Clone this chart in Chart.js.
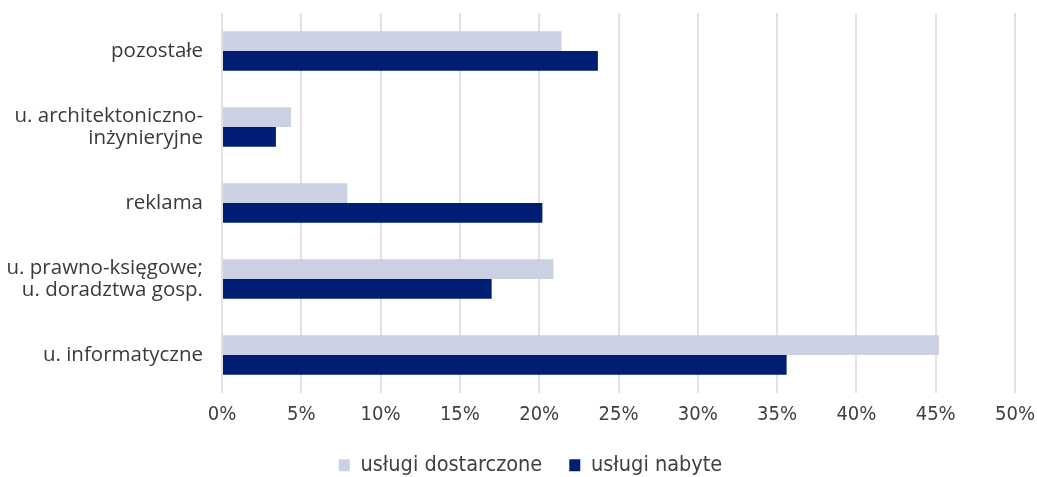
<!DOCTYPE html>
<html>
<head>
<meta charset="utf-8">
<script src="https://cdn.jsdelivr.net/npm/chart.js@4"></script>
<style>
  html, body { margin: 0; padding: 0; background: #fff; }
  #wrap { width: 1037px; height: 477px; position: relative; }
</style>
</head>
<body>
<div id="wrap"><canvas id="servChart"></canvas></div>
<script>
const categories = [
    'pozostałe',
    ['u. architektoniczno-', 'inżynieryjne'],
    'reklama',
    ['u. prawno-księgowe;', 'u. doradztwa gosp.'],
    'u. informatyczne'
];
const dostarczone = [21.4, 4.35, 7.9, 20.9, 45.2];
const nabyte = [23.7, 3.4, 20.2, 17.0, 35.6];
const seriesNames = ['usługi dostarczone', 'usługi nabyte'];
const xTicks = [0, 5, 10, 15, 20, 25, 30, 35, 40, 45, 50];

const labelFont = "'Open Sans', 'Noto Sans', sans-serif";
const narrowFont = "'Liberation Sans Narrow', 'DejaVu Sans Condensed', sans-serif";

// legend in the original sits a bit right of centre
const nudgeLegend = {
    id: 'nudgeLegend',
    afterLayout(chart) {
        if (!chart.legend) return;
        chart.legend.left += 23;
        chart.legend.right += 23;
    }
};

const ctx = document.getElementById('servChart').getContext('2d');
new Chart(ctx, {
    type: 'bar',
    data: {
        labels: categories,
        datasets: [
            { label: seriesNames[0], data: dostarczone, backgroundColor: '#cbd0e2', borderWidth: 0 },
            { label: seriesNames[1], data: nabyte, backgroundColor: '#001e73', borderWidth: 0 }
        ]
    },
    plugins: [nudgeLegend],
    options: {
        indexAxis: 'y',
        responsive: true,
        maintainAspectRatio: false,
        animation: false,
        categoryPercentage: 0.52,
        barPercentage: 1.0,
        layout: { padding: { top: 13, right: 22, left: 0, bottom: -9 } },
        plugins: {
            tooltip: { enabled: false },
            legend: {
                position: 'bottom',
                labels: {
                    color: '#404040',
                    font: { family: narrowFont, size: 21.5 },
                    boxWidth: 11, boxHeight: 12,
                    padding: 27
                }
            }
        },
        scales: {
            x: {
                min: 0, max: 50,
                afterBuildTicks: s => { s.ticks = xTicks.map(v => ({ value: v })); },
                afterFit: s => { s.height = 34.5; s.paddingRight = 0; s.paddingLeft = 0; },
                grid: { color: '#e2e2e2', lineWidth: 2, drawTicks: false },
                border: { display: false },
                ticks: {
                    color: '#404040',
                    font: { family: narrowFont, size: 20 },
                    padding: 10,
                    callback: v => v + '%'
                }
            },
            y: {
                afterFit: s => { s.width = 222; s.paddingTop = 0; s.paddingBottom = 0; },
                grid: { display: false },
                border: { display: false },
                ticks: {
                    color: '#3a3a3a',
                    font: { family: labelFont, size: 20.5, lineHeight: 1.08 },
                    padding: 11
                }
            }
        }
    }
});
</script>
</body>
</html>
